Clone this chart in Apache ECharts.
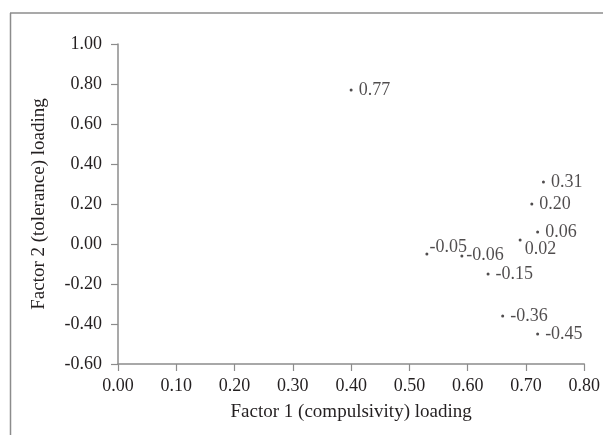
<!DOCTYPE html>
<html>
<head>
<meta charset="utf-8">
<script src="https://cdn.jsdelivr.net/npm/echarts@6/dist/echarts.min.js"></script>
<style>
html,body{margin:0;padding:0;background:#fff;}
#chart{width:603px;height:435px;}
</style>
</head>
<body>
<div id="chart"></div>
<script>
// Data
var factor1 = [0.40, 0.73, 0.71, 0.72, 0.69, 0.53, 0.59, 0.635, 0.66, 0.72];
var factor2 = [0.77, 0.31, 0.20, 0.06, 0.02, -0.05, -0.06, -0.15, -0.36, -0.45];
var pointLabels = ['0.77', '0.31', '0.20', '0.06', '0.02', '-0.05', '-0.06', '-0.15', '-0.36', '-0.45'];
var xTickLabels = ['0.00','0.10','0.20','0.30','0.40','0.50','0.60','0.70','0.80'];
var yTickLabels = ['-0.60','-0.40','-0.20','0.00','0.20','0.40','0.60','0.80','1.00'];

// Label placement (styling only)
var labelOffsets = {
  '0.02': [3, 9],
  '-0.05': [1, -7],
  '-0.06': [3, -1]
};

var FONT = 'Liberation Serif';
var TXT = '#231f20';
var AX = '#8c8c8c';

var points = factor1.map(function (x, i) {
  var off = labelOffsets[pointLabels[i]] || [6, 0];
  return {
    value: [x, factor2[i]],
    label: { offset: off }
  };
});

var chart = echarts.init(document.getElementById('chart'));
chart.setOption({
  animation: false,
  backgroundColor: '#fff',
  grid: { left: 118, right: 10, top: 44, bottom: 71, containLabel: false },
  graphic: [
    { type: 'line', shape: { x1: 10, y1: 13, x2: 603, y2: 13 }, style: { stroke: AX, lineWidth: 1.5 } },
    { type: 'line', shape: { x1: 10.5, y1: 13, x2: 10.5, y2: 435 }, style: { stroke: AX, lineWidth: 1.5 } }
  ],
  xAxis: {
    type: 'value', min: 0, max: 0.8, interval: 0.1,
    name: 'Factor 1 (compulsivity) loading', nameLocation: 'middle', nameGap: 39,
    nameTextStyle: { fontFamily: FONT, fontSize: 19, color: TXT },
    axisLine: { show: true, onZero: false, lineStyle: { color: AX, width: 1.5 } },
    axisTick: { show: true, length: 7, lineStyle: { color: AX, width: 1.2 } },
    splitLine: { show: false },
    axisLabel: {
      fontFamily: FONT, fontSize: 18, color: TXT, margin: 13,
      formatter: function (v) { return xTickLabels[Math.round(v * 10)]; }
    }
  },
  yAxis: {
    type: 'value', min: -0.6, max: 1.0, interval: 0.2,
    name: 'Factor 2 (tolerance) loading', nameLocation: 'middle', nameGap: 69, nameRotate: 90,
    nameTextStyle: { fontFamily: FONT, fontSize: 19, color: TXT },
    axisLine: { show: true, onZero: false, lineStyle: { color: AX, width: 1.5 } },
    axisTick: { show: true, length: 7, lineStyle: { color: AX, width: 1.2 } },
    splitLine: { show: false },
    axisLabel: {
      fontFamily: FONT, fontSize: 18, color: TXT, margin: 16,
      formatter: function (v) { return yTickLabels[Math.round((v + 0.6) * 5)]; }
    }
  },
  series: [{
    type: 'scatter',
    symbol: 'circle',
    symbolSize: 3,
    itemStyle: { color: '#231f20' },
    data: points,
    label: {
      show: true, position: 'right', distance: 0,
      fontFamily: FONT, fontSize: 18, color: TXT,
      formatter: function (p) { return pointLabels[p.dataIndex]; }
    }
  }]
});
</script>
</body>
</html>
